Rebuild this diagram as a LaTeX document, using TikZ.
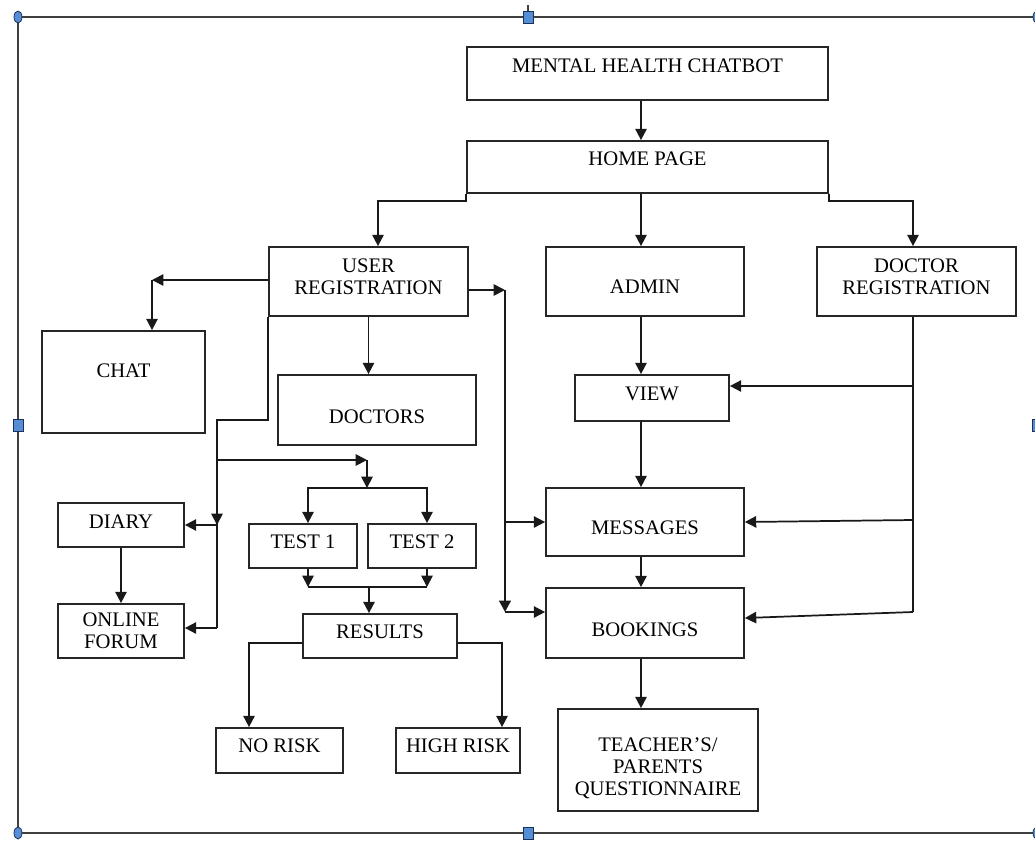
\documentclass[tikz,border=0pt]{standalone}
\usepackage{fontspec}
\setmainfont{Liberation Serif}
\usetikzlibrary{arrows.meta,positioning,calc}
\definecolor{handleblue}{RGB}{86,142,213}
\definecolor{handleedge}{RGB}{28,48,92}

\begin{document}
\begin{tikzpicture}[
  x=0.75pt, y=-0.75pt,
  font=\fontsize{15.5}{16.5}\selectfont,
  box/.style 2 args={draw=black!85, line width=1.3pt, minimum width=#1*0.75pt, minimum height=#2*0.75pt, inner sep=0pt, align=center},
  tup/.style={text depth=#1},
  tdown/.style={text height=#1},
  line/.style={line width=1.3pt, draw=black!90},
  arr/.style={line, -{Triangle[length=8.5pt,width=8.5pt]}},
  frame/.style={line width=1.1pt, draw=black!75},
  handle/.style={fill=handleblue, draw=handleedge, line width=0.6pt}
]
\useasboundingbox (0,0) rectangle (1035,840);

% selection frame round the drawing
\draw[frame] (18,17) rectangle (1037,833);
\draw[frame] (528,5) -- (528,17);
\foreach \p in {(18,17),(18,833),(1037,17),(1037,833)}
  \filldraw[handle] \p ellipse [x radius=3pt, y radius=4.5pt];
\foreach \p in {(528,17),(528,833),(18,425),(1037,425)}
  \filldraw[handle] \p ++(-3.75pt,-4.5pt) rectangle ++(7.5pt,9pt);

% boxes
\node[box={361}{53}, tup=12pt] (chatbot) at (647.5,73.5) {MENTAL HEALTH CHATBOT};
\node[box={361}{52}, tup=12pt] (home) at (647.5,167) {HOME PAGE};
\node[box={199}{69}, tup=8pt] (ureg) at (368.5,281.5) {USER\\REGISTRATION};
\node[box={198}{69}, tdown=18pt] (admin) at (645,281.5) {ADMIN};
\node[box={199}{69}, tup=8pt] (dreg) at (916.5,281.5) {DOCTOR\\REGISTRATION};
\node[box={163}{102}, tup=16.5pt] (chat) at (123.5,382) {CHAT};
\node[box={198}{70}, tdown=20.5pt] (doctors) at (377,410) {DOCTORS};
\node[box={154}{46}, tup=6pt] (view) at (652,398) {VIEW};
\node[box={126}{44}, tup=4.5pt] (diary) at (121,525) {DIARY};
\node[box={108}{44}, tup=6pt] (test1) at (303,546) {TEST 1};
\node[box={108}{44}, tup=6pt] (test2) at (422,546) {TEST 2};
\node[box={198}{68}, tdown=19pt] (messages) at (645,522) {MESSAGES};
\node[box={126}{54}] (forum) at (121,631) {ONLINE\\FORUM};
\node[box={154}{44}, tup=6pt] (results) at (380,636) {RESULTS};
\node[box={198}{70}, tdown=20.5pt] (bookings) at (645,623) {BOOKINGS};
\node[box={127}{45}, tup=7pt] (norisk) at (279.5,750.5) {NO RISK};
\node[box={124}{45}, tup=8pt] (highrisk) at (458,750.5) {HIGH RISK};
\node[box={200}{102}, tdown=55pt] (teacher) at (658,760) {TEACHER’S/\\PARENTS\\QUESTIONNAIRE};

% centre column
\coordinate (spine) at (641,0);
\draw[arr] (chatbot.south -| spine) -- (home.north -| spine);
\draw[arr] (home.south -| spine) -- (admin.north -| spine);
\draw[arr] (admin.south -| spine) -- (view.north -| spine);
\draw[arr] (view.south -| spine) -- (messages.north -| spine);
\draw[arr] (messages.south -| spine) -- (bookings.north -| spine);
\draw[arr] (bookings.south -| spine) -- (teacher.north -| spine);

% home page to the two registrations
\coordinate (hl) at (378,201);
\coordinate (hr) at (913,201);
\draw[arr] (home.south west) |- (hl) -- (hl |- ureg.north);
\draw[arr] (home.south east) |- (hr) -- (hr |- dreg.north);

% user registration
\coordinate (cl) at (152,280);
\draw[arr] (ureg.west |- cl) -- (cl);
\draw[arr] (cl) -- (cl |- chat.north);
\draw[arr] (ureg.south) -- (ureg.south |- doctors.north);

\coordinate (ur) at (505,290);
\coordinate (ub) at (505,612);
\draw[arr] (ureg.east |- ur) -- (ur);
\draw[arr, line width=2.2pt] (ur) -- (ub);
\draw[arr] (ub) -- (bookings.west |- ub);
\draw[arr] (ur |- messages.west) -- (messages.west);

\coordinate (lv) at (217,420);
\coordinate (lt) at (217,460);
\coordinate (ld) at (217,525);
\coordinate (lf) at (217,628);
\draw[line] (ureg.south west) |- (lv) -- (lf);
\draw[arr] (lt) -- (ld);
\draw[arr] (ld) -- (diary.east |- ld);
\draw[arr] (lf) -- (forum.east |- lf);
\draw[arr] (diary.south) -- (forum.north);

% tests and results
\coordinate (tc) at (367,460);
\coordinate (tj) at (367,488);
\coordinate (t1x) at (308,0);
\coordinate (t2x) at (427,0);
\coordinate (rj) at (369,587);
\draw[arr] (lt) -- (tc);
\draw[arr] (tc) -- (tj);
\draw[arr] (tj) -| (test1.north -| t1x);
\draw[arr] (tj) -| (test2.north -| t2x);
\draw[arr] (test1.south -| t1x) -- (t1x |- rj);
\draw[arr] (test2.south -| t2x) -- (t2x |- rj);
\draw[line] (t1x |- rj) -- (t2x |- rj);
\draw[arr] (rj) -- (rj |- results.north);

\coordinate (nr) at (249,643);
\coordinate (hk) at (502,643);
\draw[arr] (results.west |- nr) -- (nr) -- (nr |- norisk.north);
\draw[arr] (results.east |- hk) -- (hk) -- (hk |- highrisk.north);

% doctor registration
\coordinate (d1) at (913,386);
\coordinate (d2) at (913,520);
\coordinate (d3) at (913,612);
\draw[line] (dreg.south -| d1) -- (d3);
\draw[arr] (d1) -- (view.east |- d1);
\draw[arr] (d2) -- (messages.east);
\draw[arr] (d3) -- ([yshift=3.75pt]bookings.east);

\end{tikzpicture}
\end{document}
